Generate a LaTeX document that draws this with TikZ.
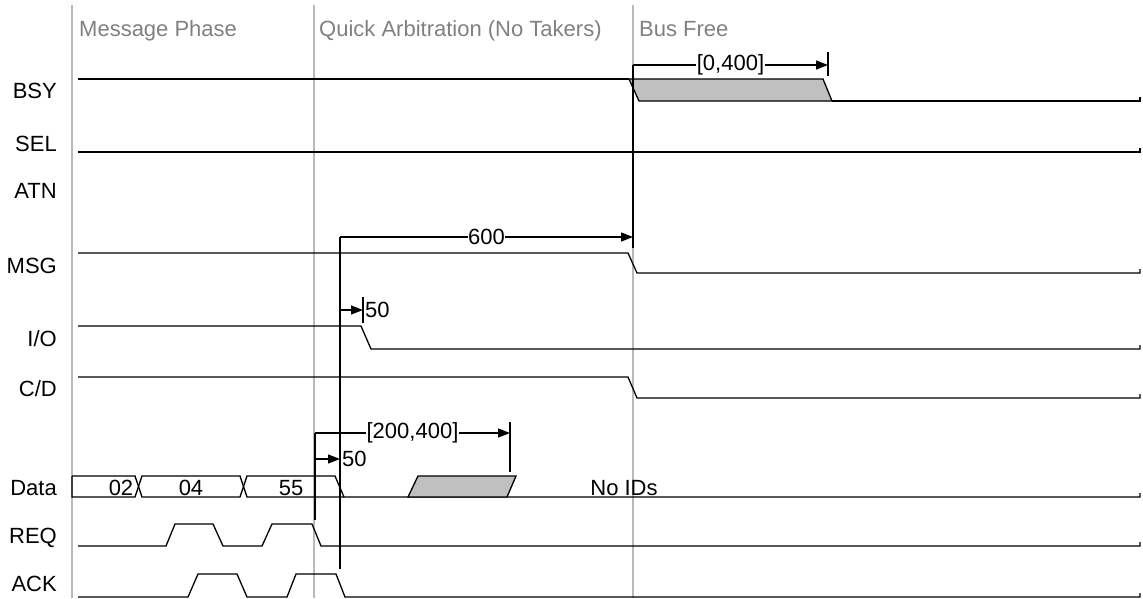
\documentclass[tikz,border=0pt]{standalone}
\usepackage{fontspec}
\setmainfont{Liberation Sans}
\usepackage{xcolor}
\usepackage{tikz}
\usetikzlibrary{arrows.meta}
\definecolor{phasegray}{RGB}{128,128,128}
\definecolor{gridgray}{RGB}{185,185,185}
\definecolor{fuzzgray}{RGB}{192,192,192}

\begin{document}
\begin{tikzpicture}[x=1pt, y=-1pt, every node/.style={font=\fontsize{22}{26}\selectfont},
  sig/.style={line width=1.3pt},
  phaseline/.style={draw=gridgray, line width=1.2pt},
  phasename/.style={anchor=base west, text=phasegray, inner sep=0pt},
  signame/.style={anchor=base east, inner sep=0pt},
  timing/.style={line width=1.3pt, -{Triangle[length=12pt,width=9pt]}},
  tlabel/.style={fill=white, inner sep=0.5pt}]
  \useasboundingbox (0,0) rectangle (1143,598);

  % phases
  \draw[phaseline] (72,5) -- (72,598);
  \draw[phaseline] (314,5) -- (314,598);
  \draw[phaseline] (633,5) -- (633,598);
  \node[phasename] (msgphase) at (79,36) {Message Phase};
  \node[phasename] (arbphase) at (319,36) {Quick Arbitration (No Takers)};
  \node[phasename] (freephase) at (639,36) {Bus Free};

  % signal names
  \foreach \nm/\txt/\y in {bsy/BSY/98, sel/SEL/151, atn/ATN/198, msg/MSG/273, io/I\slash O/346,
                          cd/C\slash D/396, data/Data/495, req/REQ/543, ack/ACK/591}
    \node[signame] (\nm) at (57,\y) {\txt};

  % traces
  \draw[sig] (78,79) -- (629,79);
  \filldraw[sig, fill=fuzzgray] (629,79) -- (823,79) -- (832,101) -- (639,101) -- cycle;
  \draw[sig] (832,101) -- (1140,101) -- ++(0,-4);
  \draw[sig] (78,152) -- (1140,152) -- ++(0,-4);
  \draw[sig] (78,253) -- (628,253) -- (637,273) -- (1140,273) -- ++(0,-4);
  \draw[sig] (78,326) -- (361,326) -- (371,349) -- (1140,349) -- ++(0,-4);
  \draw[sig] (78,377) -- (628,377) -- (637,398) -- (1140,398) -- ++(0,-4);
  \draw[sig] (72,476) -- (135,476) -- (142,497) -- (240,497) -- (247,476) -- (335,476) -- (344,497) -- (1140,497) -- ++(0,-4);
  \draw[sig] (72,476) -- (72,497) -- (135,497) -- (142,476) -- (240,476) -- (247,497) -- (344,497);
  \filldraw[sig, fill=fuzzgray] (408,497) -- (418,476) -- (516,476) -- (507,497) -- cycle;
  \draw[sig] (78,546) -- (166,546) -- (175,524) -- (213,524) -- (223,546) -- (262,546) -- (272,524) -- (312,524) -- (321,546) -- (1140,546) -- ++(0,-4);
  \draw[sig] (78,597) -- (188,597) -- (198,574) -- (237,574) -- (247,597) -- (287,597) -- (296,574) -- (336,574) -- (345,597) -- (1140,597) -- ++(0,-4);

  % bus values
  \node[anchor=base, inner sep=0pt] (v02) at (121,495) {02};
  \node[anchor=base, inner sep=0pt] (v04) at (191,495) {04};
  \node[anchor=base, inner sep=0pt] (v55) at (291,495) {55};
  \node[anchor=base, inner sep=0pt] (noids) at (624,495) {No IDs};

  % timing marks
  \coordinate (reqedge) at (315,520);
  \coordinate (ackedge) at (340,569);
  \coordinate (msgedge) at (633,248);
  \coordinate (arbtop) at (315,433);
  \coordinate (acktop) at (340,237);
  \coordinate (bftop) at (633,65);
  \coordinate (bsyend) at (828,65);
  \coordinate (dataend) at (510,433);
  \coordinate (ioend) at (363,310);
  \coordinate (freeend) at (633,237);
  \coordinate (ackmark) at (340,459);

  \draw[sig] (reqedge) -- (arbtop);
  \draw[sig] (ackedge) -- (acktop);
  \draw[sig] (msgedge) -- (bftop);

  \draw[timing] (bftop) -- node[tlabel] {[0,400]} (bsyend);
  \draw[sig] (828,52) -- (828,76);
  \draw[timing] (acktop) -- node[tlabel] {600} (freeend);
  \draw[line width=2pt] (633,224) -- (633,248);
  \draw[timing] (340,310) -- (ioend);
  \draw[sig] (363,297) -- (363,323);
  \node[anchor=west, inner sep=2pt] (io50) at (ioend) {50};
  \draw[timing] (arbtop) -- node[tlabel] {[200,400]} (dataend);
  \draw[sig] (510,422) -- (510,472);
  \draw[timing] (315,459) -- (ackmark);
  \node[anchor=west, inner sep=2pt] (ack50) at (ackmark) {50};
\end{tikzpicture}
\end{document}
